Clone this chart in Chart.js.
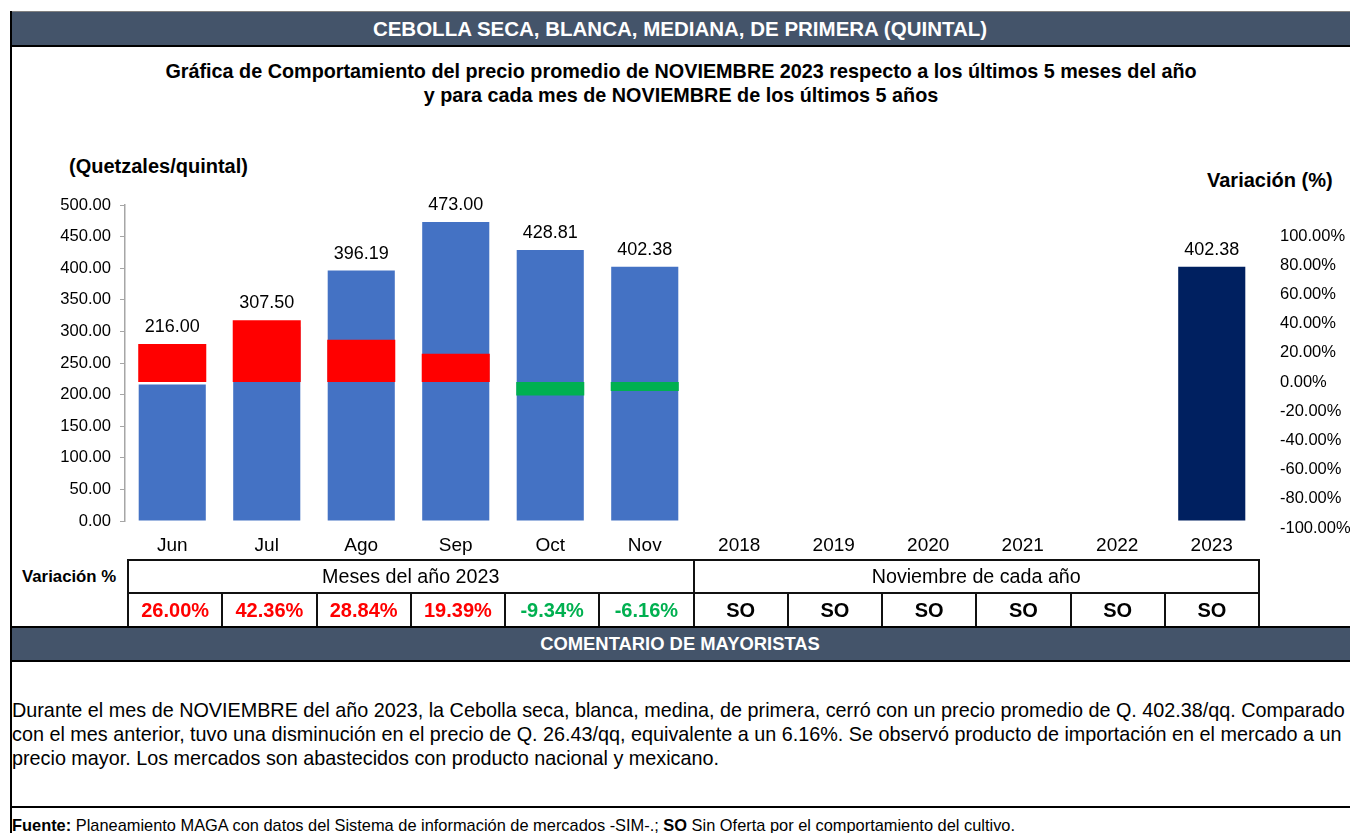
<!DOCTYPE html>
<html lang="es">
<head>
<meta charset="utf-8">
<title>Cebolla seca, blanca, mediana, de primera</title>
<script src="https://cdn.jsdelivr.net/npm/chart.js@4.4.0/dist/chart.umd.min.js"></script>
<style>
    body {
        margin: 0;
        width: 1350px;
        height: 833px;
        position: relative;
        overflow: hidden;
        background: #fff;
        font-family: 'Liberation Sans', Arial, sans-serif;
        color: #000;
    }
    .abs { position: absolute; }
    .borde-izq { left: 10px; top: 11px; width: 2px; height: 822px; background: #000; }
    .barra {
        left: 10px; width: 1340px;
        background: #44546A;
        color: #fff;
        font-weight: bold;
        text-align: center;
        box-sizing: border-box;
    }
    #encabezado { top: 11px; height: 36px; line-height: 33px; font-size: 20.5px; border-top: 1px solid #808080; border-bottom: 2px solid #000; }
    #comentarioTitulo { top: 626px; height: 36px; line-height: 32px; font-size: 18.4px; border-top: 2px solid #000; border-bottom: 2px solid #000; }
    #titulo { left: 12px; top: 59px; width: 1338px; text-align: center; font-weight: bold; font-size: 19.8px; line-height: 24px; }
    #unidad { left: 69px; top: 155px; font-weight: bold; font-size: 20px; }
    #unidadVar { left: 1207px; top: 169px; font-weight: bold; font-size: 20px; }
    #graficaBox { left: 0; top: 150px; width: 1350px; height: 410px; }
    #etiquetaVar { left: 22px; top: 567px; font-weight: bold; font-size: 16.8px; }
    #tabla {
        left: 127px; top: 559px;
        width: 1133px;
        border-collapse: collapse;
        table-layout: fixed;
    }
    #tabla td {
        border: 2px solid #111;
        text-align: center;
        padding: 0;
        font-size: 19.7px;
        white-space: nowrap;
    }
    #tabla tr.fila1 td { height: 31px; }
    #tabla tr.fila2 td { height: 32px; font-weight: bold; font-size: 20px; }
    #comentario { left: 12px; top: 699px; font-size: 19.8px; line-height: 23.8px; white-space: nowrap; }
    #lineaFuente { left: 10px; top: 806px; width: 1340px; height: 2px; background: #000; }
    #fuente { left: 12px; top: 816px; font-size: 16.4px; white-space: nowrap; }
</style>
</head>
<body>
<div class="abs barra" id="encabezado">CEBOLLA SECA, BLANCA, MEDIANA, DE PRIMERA (QUINTAL)</div>
<div class="abs" id="titulo">Gráfica de Comportamiento del precio promedio de NOVIEMBRE 2023 respecto a los últimos 5 meses del año<br>y para cada mes de NOVIEMBRE de los últimos 5 años</div>
<div class="abs" id="unidad">(Quetzales/quintal)</div>
<div class="abs" id="unidadVar">Variación (%)</div>

<div class="abs" id="graficaBox"><canvas id="grafica" width="1350" height="410"></canvas></div>

<div class="abs" id="etiquetaVar">Variación %</div>
<table class="abs" id="tabla">
    <tr class="fila1">
        <td colspan="6">Meses del año 2023</td>
        <td colspan="6">Noviembre de cada año</td>
    </tr>
    <tr class="fila2" id="filaVariacion"></tr>
</table>

<div class="abs barra" id="comentarioTitulo">COMENTARIO DE MAYORISTAS</div>
<div class="abs" id="comentario">Durante el mes de NOVIEMBRE del año 2023, la Cebolla seca, blanca, medina, de primera, cerró con un precio promedio de Q. 402.38/qq. Comparado<br>con el mes anterior, tuvo una disminución en el precio de Q. 26.43/qq, equivalente a un 6.16%. Se observó producto de importación en el mercado a un<br>precio mayor. Los mercados son abastecidos con producto nacional y mexicano.</div>
<div class="abs" id="lineaFuente"></div>
<div class="abs" id="fuente"><b>Fuente:</b> Planeamiento MAGA con datos del Sistema de información de mercados -SIM-.; <b>SO</b> Sin Oferta por el comportamiento del cultivo.</div>
<div class="abs borde-izq"></div>

<script>
// Datos de la gráfica
const categorias = ['Jun', 'Jul', 'Ago', 'Sep', 'Oct', 'Nov', '2018', '2019', '2020', '2021', '2022', '2023'];
const precios = [216.00, 307.50, 396.19, 473.00, 428.81, 402.38, null, null, null, null, null, 402.38];
const variaciones = [26.00, 42.36, 28.84, 19.39, -9.34, -6.16, null, null, null, null, null, null];
const ticksPrecio = [0, 50, 100, 150, 200, 250, 300, 350, 400, 450, 500];
const ticksVariacion = [-100, -80, -60, -40, -20, 0, 20, 40, 60, 80, 100];

const FUENTE = "'Liberation Sans', Arial, sans-serif";
Chart.defaults.font.family = FUENTE;
Chart.defaults.color = '#000';

// Colores
const AZUL = '#4472C4';
const AZUL_OSCURO = '#002060';
const ROJO = '#FF0000';
const VERDE = '#00B050';

// Fila de variaciones de la tabla
const fila = document.getElementById('filaVariacion');
variaciones.forEach(v => {
    const td = document.createElement('td');
    if (v === null) {
        td.textContent = 'SO';
    } else {
        td.textContent = v.toFixed(2) + '%';
        td.style.color = v >= 0 ? ROJO : VERDE;
    }
    fila.appendChild(td);
});

// Etiquetas de valor sobre las barras
const etiquetasPlugin = {
    id: 'etiquetas',
    afterDatasetsDraw(chart) {
        const ctx = chart.ctx;
        const meta = chart.getDatasetMeta(1);
        const y2 = chart.scales.y2;
        ctx.save();
        ctx.font = '18px ' + FUENTE;
        ctx.fillStyle = '#000';
        ctx.textAlign = 'center';
        ctx.textBaseline = 'middle';
        meta.data.forEach((bar, i) => {
            if (precios[i] === null) return;
            let tope = bar.y;
            if (variaciones[i] !== null && variaciones[i] > 0) {
                tope = Math.min(tope, y2.getPixelForValue(variaciones[i]));
            }
            ctx.fillText(precios[i].toFixed(2), bar.x, tope - 17);
        });
        ctx.restore();
    }
};

new Chart(document.getElementById('grafica'), {
    type: 'bar',
    data: {
        labels: categorias,
        datasets: [{
            label: 'Variación',
            data: variaciones.map(v => v === null ? null : [0, v]),
            backgroundColor: variaciones.map(v => v !== null && v < 0 ? VERDE : ROJO),
            yAxisID: 'y2',
            grouped: false,
            order: 0,
            categoryPercentage: 1,
            barPercentage: 0.72,
        }, {
            label: 'Precio',
            data: precios,
            backgroundColor: precios.map((p, i) => i < 6 ? AZUL : AZUL_OSCURO),
            yAxisID: 'y',
            grouped: false,
            order: 1,
            categoryPercentage: 1,
            barPercentage: 0.71,
        }],
    },
    options: {
        responsive: false,
        animation: false,
        layout: { padding: { top: 55, left: 0, right: 0, bottom: 0 } },
        plugins: {
            legend: { display: false },
            tooltip: { enabled: false },
        },
        scales: {
            x: {
                grid: { display: false, drawTicks: false },
                border: { display: false },
                ticks: { font: { size: 19 }, padding: 13, autoSkip: false, maxRotation: 0 },
                afterFit: s => { s.height = 39; },
            },
            y: {
                position: 'left',
                min: 0,
                max: 500,
                grid: { drawOnChartArea: false, drawTicks: true, tickLength: 5, color: '#A6A6A6' },
                border: { color: '#A6A6A6', width: 1.5 },
                afterBuildTicks: s => { s.ticks = ticksPrecio.map(v => ({ value: v })); },
                ticks: { font: { size: 16.6 }, padding: 9, autoSkip: false, callback: v => v.toFixed(2) },
                afterFit: s => { s.width = 125; },
            },
            y2: {
                position: 'right',
                min: -95.2,
                max: 121.2,
                grid: { display: false, drawTicks: false },
                border: { display: false },
                afterBuildTicks: s => { s.ticks = ticksVariacion.map(v => ({ value: v })); },
                ticks: { font: { size: 16.5 }, padding: 21, autoSkip: false, callback: v => v.toFixed(2) + '%' },
                afterFit: s => { s.width = 91; },
            },
        },
    },
    plugins: [etiquetasPlugin],
});
</script>
</body>
</html>
